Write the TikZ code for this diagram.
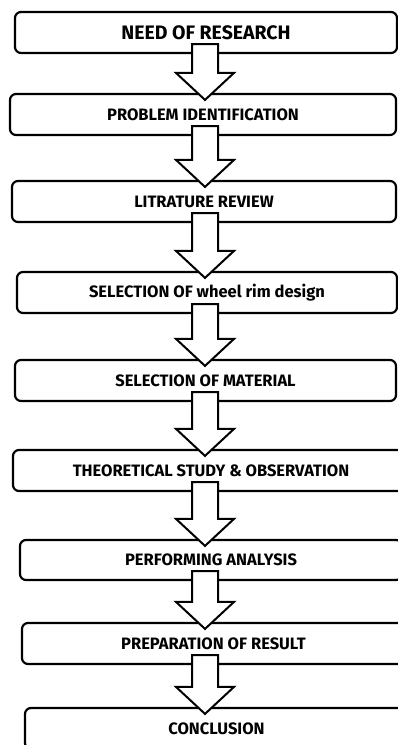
\documentclass[tikz,border=0pt]{standalone}
\usepackage{fontspec}
\setmainfont{Fira Sans}
\usetikzlibrary{calc}

% hollow block arrow from the bottom of one stage to the top of the next
\newcommand{\flowarrow}[2]{%
  \draw[blockarrow] ($(#1.south -| spine)+(-13,-10)$) -- ($(#1.south -| spine)+(13,-10)$)
    -- ($(#2.north -| spine)+(13,-20)$) -- ($(#2.north -| spine)+(29,-20)$)
    -- ($(#2.north -| spine)+(0,7)$) -- ($(#2.north -| spine)+(-29,-20)$)
    -- ($(#2.north -| spine)+(-13,-20)$) -- cycle;}

\begin{document}
\begin{tikzpicture}
[x=1pt, y=-1pt,
stage/.style={shape=rectangle,draw=black,line width=2.2pt,rounded corners=6pt,
  minimum height=41pt,inner sep=0pt,font=\bfseries\fontsize{16.5}{19}\selectfont},
bigstage/.style={stage,font=\bfseries\fontsize{19.5}{22}\selectfont},
%
blockarrow/.style={draw=black,fill=white,line width=2pt,line join=miter}]

\useasboundingbox (0,0) rectangle (398,745);
\clip (0,0) rectangle (398,745);

\coordinate (spine) at (205,0);

\node (need) [bigstage,minimum width=382pt] at (206,32.5) {NEED OF RESEARCH};
\node (problem) [stage,minimum width=386pt] at (203,114.5) {PROBLEM IDENTIFICATION};
\node (review) [stage,minimum width=384pt] at (204,201.5) {LITRATURE REVIEW};
\node (rimdesign) [stage,minimum width=380pt] at (207,292.5) {SELECTION OF wheel rim design};
\node (material) [stage,minimum width=381pt] at (205.5,380.5) {SELECTION OF MATERIAL};
\node (study) [stage,minimum width=396pt] at (211,470.5) {THEORETICAL STUDY \& OBSERVATION};
\node (analysis) [stage,minimum width=382pt,minimum height=40pt] at (211,560) {PERFORMING ANALYSIS};
\node (result) [stage,minimum width=383pt] at (213.5,643.5) {PREPARATION OF RESULT};
\node (conclusion) [stage,minimum width=383pt] at (216.5,728.5) {CONCLUSION};

\flowarrow{need}{problem}
\flowarrow{problem}{review}
\flowarrow{review}{rimdesign}
\flowarrow{rimdesign}{material}
\flowarrow{material}{study}
\flowarrow{study}{analysis}
\flowarrow{analysis}{result}
\flowarrow{result}{conclusion}

\end{tikzpicture}
\end{document}
